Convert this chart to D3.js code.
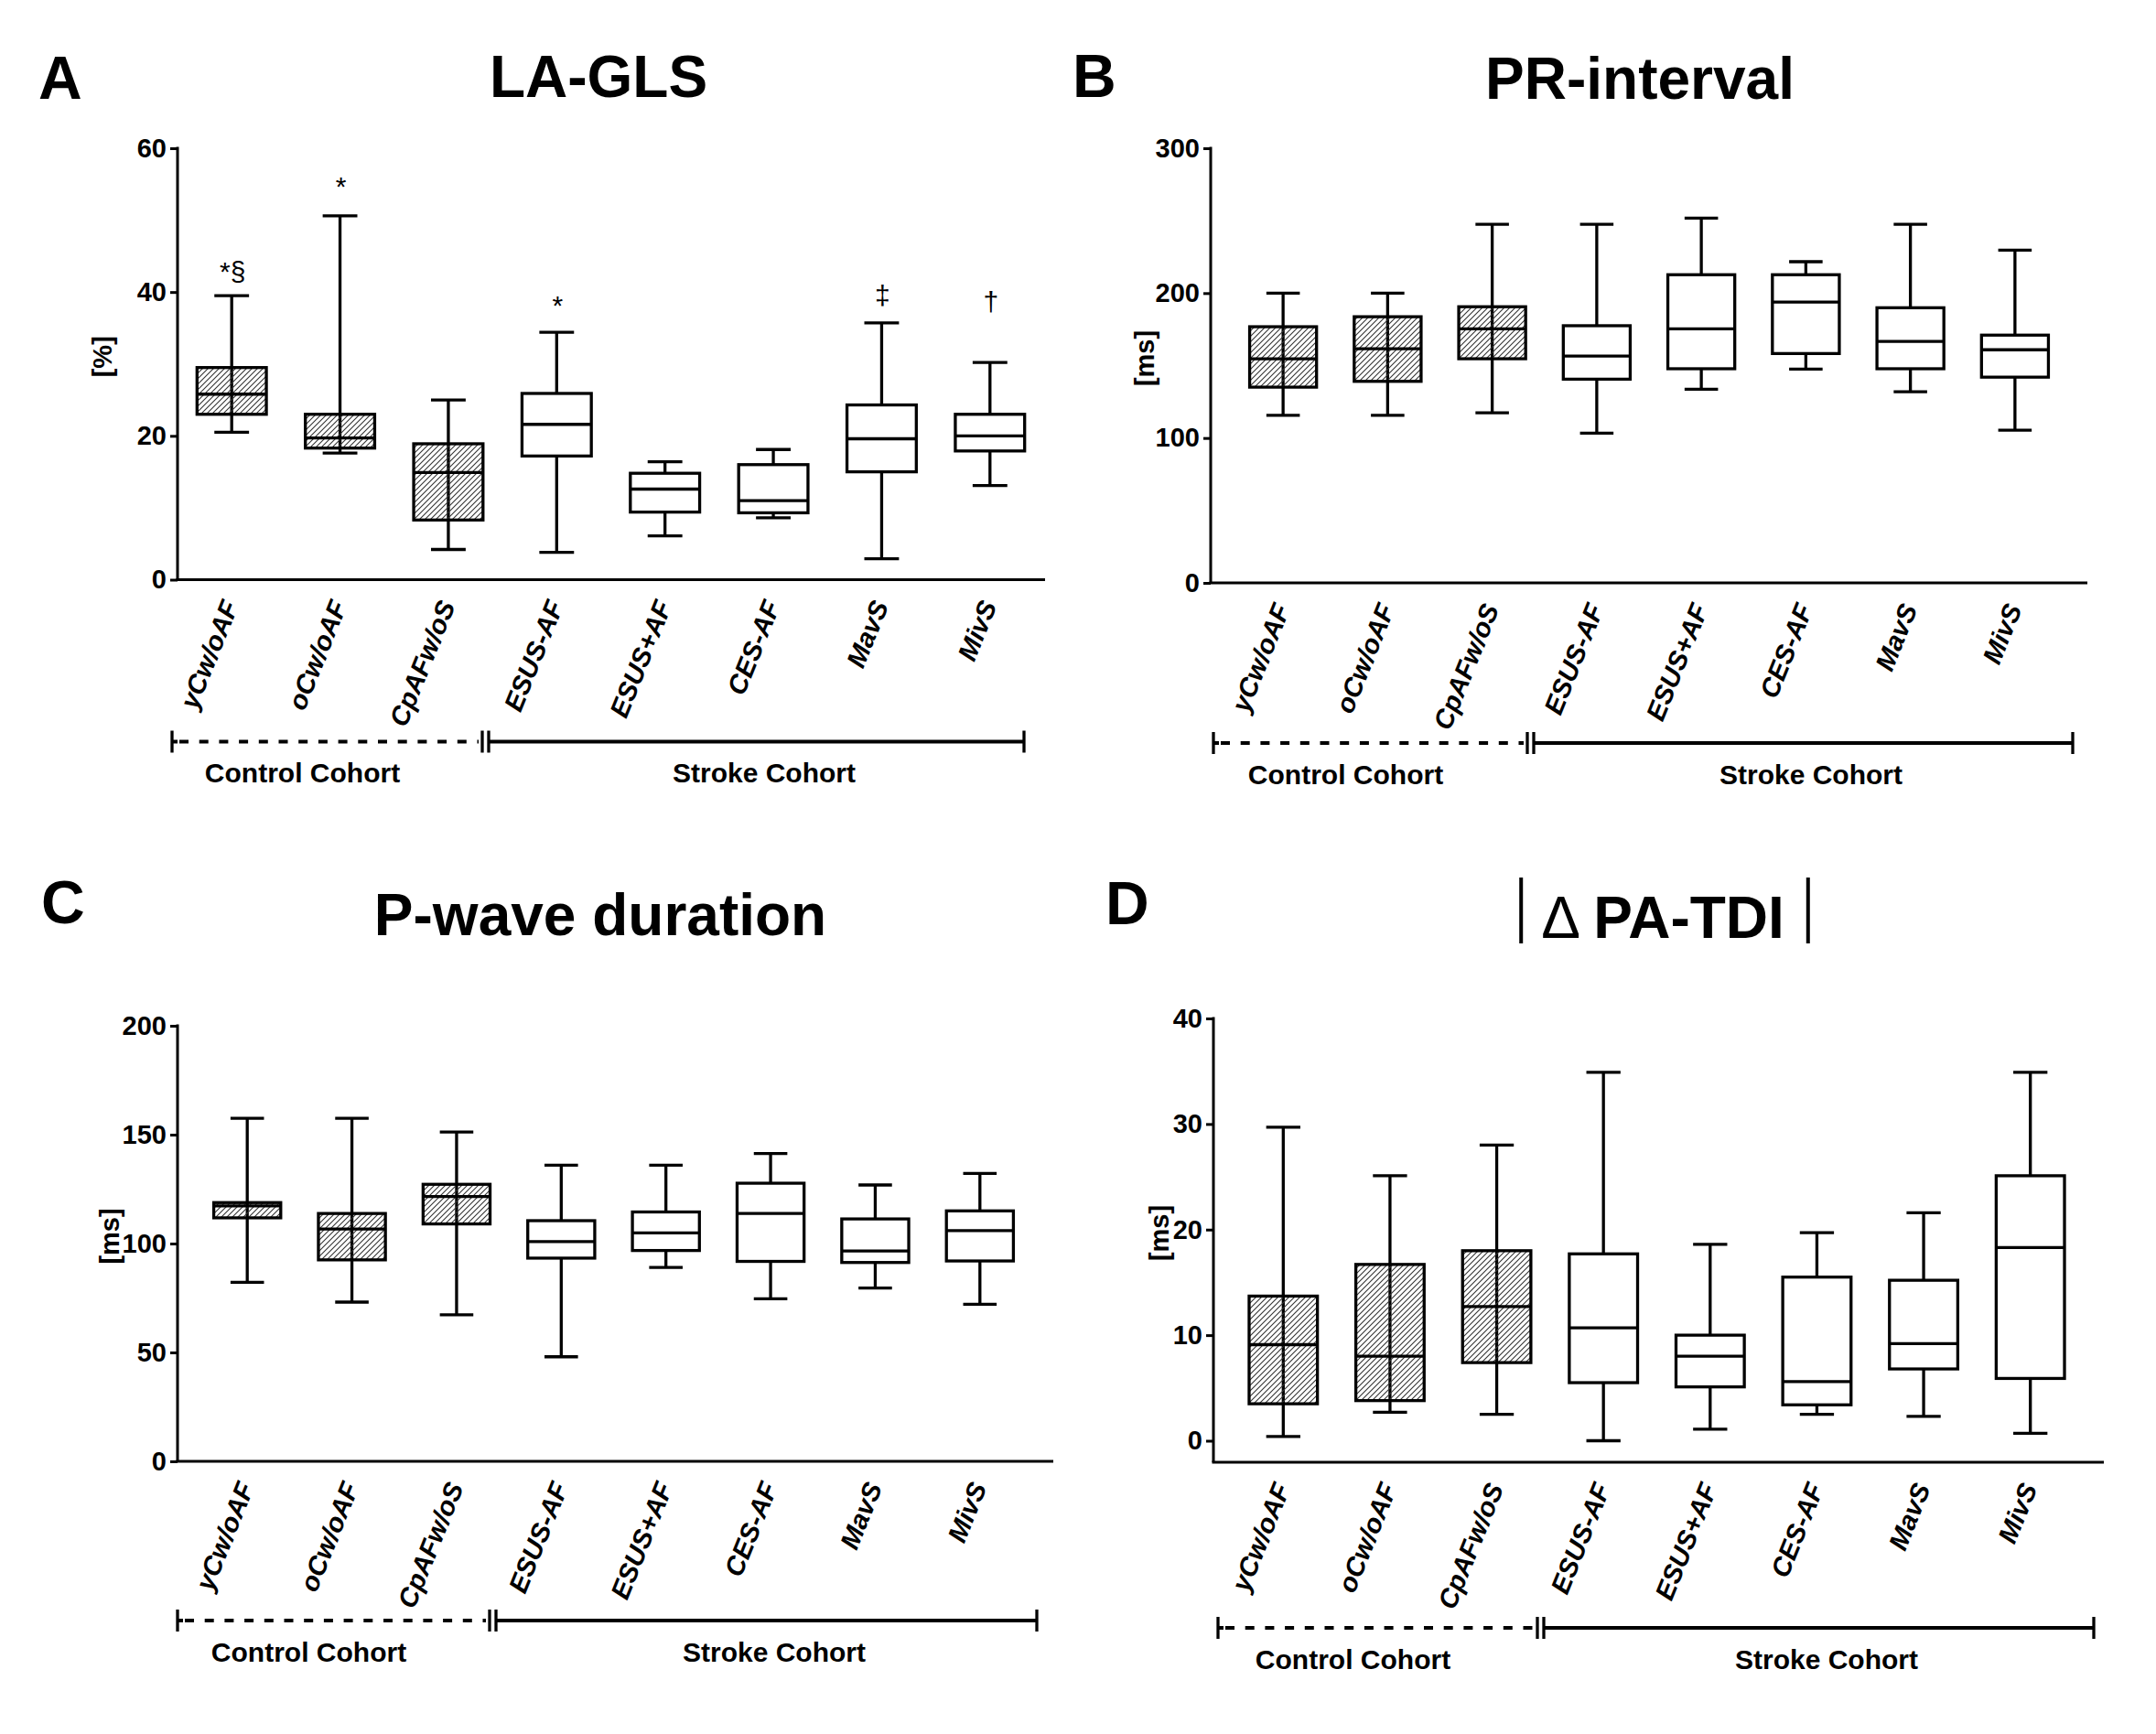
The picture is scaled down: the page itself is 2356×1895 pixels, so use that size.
<!DOCTYPE html>
<html lang="en">
<head>
<meta charset="utf-8" />
<title>LA-GLS, PR-interval, P-wave duration, PA-TDI</title>
<style>
  body { margin: 0; background: #fff; }
  svg { display: block; font-family: "Liberation Sans", Arial, sans-serif; }
  .letter { font-size: 66px; font-weight: bold; }
  .title { font-size: 64px; font-weight: bold; }
  .ylab { font-size: 29px; font-weight: bold; }
  .cat { font-size: 29px; font-weight: bold; font-style: italic; }
  .cohort { font-size: 30px; font-weight: bold; }
  .sig { font-size: 30px; }
</style>
</head>
<body>
<script src="https://d3js.org/d3.v7.min.js"></script>
<script>
// groups on the x axis
var categories = ["yCw/oAF", "oCw/oAF", "CpAFw/oS", "ESUS-AF", "ESUS+AF", "CES-AF", "MavS", "MivS"];
var cohort = ["Control", "Control", "Control", "Stroke", "Stroke", "Stroke", "Stroke", "Stroke"];

// A: LA-GLS [%]
var glsMin = [20.5, 17.6, 4.2, 3.8, 6.1, 8.6, 2.9, 13.1];
var glsQ1  = [23.0, 18.3, 8.3, 17.2, 9.4, 9.3, 15.0, 17.9];
var glsMed = [25.8, 19.7, 14.9, 21.6, 12.6, 11.0, 19.6, 20.0];
var glsQ3  = [29.5, 23.0, 18.9, 25.9, 14.8, 16.0, 24.3, 23.0];
var glsMax = [39.5, 50.6, 25.0, 34.4, 16.4, 18.1, 35.7, 30.2];
var glsSig   = ["*§", "*", "", "*", "", "", "‡", "†"];
var glsSigAt = [41.5, 53.4, 0, 36.9, 0, 0, 38.3, 37.4];
var glsTicks = [0, 20, 40, 60];

// B: PR-interval [ms]
var prMin = [115.6, 115.6, 117.4, 103.3, 133.7, 147.5, 131.9, 105.4];
var prQ1  = [135.1, 139.1, 154.7, 140.6, 147.8, 158.3, 147.8, 142.0];
var prMed = [154.7, 161.6, 175.4, 156.5, 175.4, 193.8, 166.7, 160.9];
var prQ3  = [176.8, 183.7, 190.6, 177.5, 212.7, 212.7, 189.9, 171.0];
var prMax = [200, 200, 247.5, 247.5, 251.8, 221.7, 247.5, 229.7];
var prTicks = [0, 100, 200, 300];

// C: P-wave duration [ms]
var pwMin = [82.2, 73.1, 67.3, 48.0, 89.0, 74.6, 79.6, 72.1];
var pwQ1  = [111.8, 92.5, 109.0, 93.3, 96.8, 91.8, 91.3, 92.0];
var pwMed = [117.3, 106.7, 121.6, 100.9, 104.9, 113.8, 96.6, 105.9];
var pwQ3  = [118.8, 113.8, 127.2, 110.5, 114.5, 127.7, 111.3, 115.0];
var pwMax = [157.5, 157.5, 151.2, 136.0, 136.0, 141.3, 126.9, 132.2];
var pwTicks = [0, 50, 100, 150, 200];

// D: |delta PA-TDI| [ms]
var tdiMin = [0.4, 2.7, 2.5, 0, 1.1, 2.5, 2.3, 0.7];
var tdiQ1  = [3.5, 3.8, 7.4, 5.5, 5.1, 3.4, 6.8, 5.9];
var tdiMed = [9.1, 8.0, 12.7, 10.7, 8.0, 5.6, 9.2, 18.3];
var tdiQ3  = [13.7, 16.7, 18.0, 17.7, 10.0, 15.5, 15.2, 25.1];
var tdiMax = [29.7, 25.1, 28.0, 34.9, 18.6, 19.7, 21.6, 34.9];
var tdiTicks = [0, 10, 20, 30, 40];

var svg = d3.select("body").append("svg")
  .attr("width", 2356).attr("height", 1895);

// hatch for the control cohort boxes
svg.append("defs").append("pattern")
  .attr("id", "hatch")
  .attr("patternUnits", "userSpaceOnUse")
  .attr("width", 6).attr("height", 6)
  .append("path")
  .attr("d", "M-1,1 l2,-2 M0,6 l6,-6 M5,7 l2,-2")
  .attr("stroke", "#333").attr("stroke-width", 1.1);

function drawPanel(p, mins, q1s, meds, q3s, maxs) {
  var g = svg.append("g");
  var x = d3.scaleBand().domain(categories).range(p.band);
  var y = d3.scaleLinear().domain([0, d3.max(p.ticks)]).range([p.yZero, p.yTop]);
  var bw = x.bandwidth() * 0.64;
  var cx = function(i) { return x(categories[i]) + x.bandwidth() / 2; };

  g.append("text").attr("class", "letter")
    .attr("x", p.letterX).attr("y", p.letterY).text(p.letter);

  var title = g.append("text").attr("class", "title")
    .attr("x", p.titleX).attr("y", p.titleY)
    .attr("text-anchor", "middle");
  if (p.delta) {
    title.append("tspan").attr("font-weight", "normal").text("\u0394 ");
    title.append("tspan").text(p.title);
    var bb = title.node().getBBox();
    [bb.x - 22, bb.x + bb.width + 26].forEach(function(bx) {
      g.append("line").attr("x1", bx).attr("x2", bx)
        .attr("y1", p.titleY - 66).attr("y2", p.titleY + 6)
        .attr("stroke", "#000").attr("stroke-width", 4);
    });
  } else {
    title.text(p.title);
  }

  // y axis
  var ya = g.append("g").attr("transform", "translate(" + p.x0 + ",0)")
    .call(d3.axisLeft(y).tickValues(p.ticks).tickSize(8).tickPadding(4).tickSizeOuter(0));
  ya.select(".domain").remove();
  ya.attr("font-family", null).attr("font-size", null);
  ya.selectAll(".tick line").attr("stroke-width", 3);
  ya.selectAll(".tick text").attr("font-size", 29).attr("font-weight", "bold");
  g.append("line").attr("x1", p.x0).attr("x2", p.x0)
    .attr("y1", p.yTop - 1.5).attr("y2", p.axisY)
    .attr("stroke", "#000").attr("stroke-width", 3);
  g.append("line").attr("x1", p.x0 - 1.5).attr("x2", p.x1)
    .attr("y1", p.axisY).attr("y2", p.axisY)
    .attr("stroke", "#000").attr("stroke-width", 3);

  g.append("text").attr("class", "ylab")
    .attr("transform", "translate(" + p.yLabelX + "," + ((p.yTop + p.axisY) / 2 - 8) + ") rotate(-90)")
    .attr("text-anchor", "middle").attr("dy", "0.35em")
    .text(p.yLabel);

  // category labels
  g.selectAll(".cat").data(categories).join("text")
    .attr("class", "cat")
    .attr("text-anchor", "end")
    .attr("transform", function(d, i) {
      return "translate(" + (cx(i) + 8) + "," + (p.axisY + 28) + ") rotate(-68)";
    })
    .text(function(d) { return d; });

  // boxes and whiskers
  var boxes = g.selectAll(".box").data(categories).join("g").attr("class", "box");
  boxes.append("line")
    .attr("x1", function(d, i) { return cx(i); }).attr("x2", function(d, i) { return cx(i); })
    .attr("y1", function(d, i) { return y(maxs[i]); }).attr("y2", function(d, i) { return y(mins[i]); })
    .attr("stroke", "#000").attr("stroke-width", 3.3);
  [maxs, mins].forEach(function(arr) {
    boxes.append("line")
      .attr("x1", function(d, i) { return cx(i) - bw / 4; })
      .attr("x2", function(d, i) { return cx(i) + bw / 4; })
      .attr("y1", function(d, i) { return y(arr[i]); })
      .attr("y2", function(d, i) { return y(arr[i]); })
      .attr("stroke", "#000").attr("stroke-width", 3.3);
  });
  boxes.append("rect")
    .attr("x", function(d, i) { return cx(i) - bw / 2; })
    .attr("width", bw)
    .attr("y", function(d, i) { return y(q3s[i]); })
    .attr("height", function(d, i) { return y(q1s[i]) - y(q3s[i]); })
    .attr("fill", function(d, i) { return cohort[i] === "Control" ? "url(#hatch)" : "#fff"; })
    .attr("stroke", "#000").attr("stroke-width", 3.3);
  boxes.append("line")
    .attr("x1", function(d, i) { return cx(i) - bw / 2; })
    .attr("x2", function(d, i) { return cx(i) + bw / 2; })
    .attr("y1", function(d, i) { return y(meds[i]); })
    .attr("y2", function(d, i) { return y(meds[i]); })
    .attr("stroke", "#000").attr("stroke-width", 3.3);

  if (p.sig) {
    g.selectAll(".sig").data(p.sig).join("text")
      .attr("class", "sig")
      .attr("text-anchor", "middle")
      .attr("x", function(d, i) { return cx(i) + 1; })
      .attr("y", function(d, i) { return y(p.sigAt[i]); })
      .text(function(d) { return d; });
  }

  // cohort brackets
  var by = p.bracketY;
  g.append("line").attr("x1", p.bL + 8).attr("x2", p.bD - 4).attr("y1", by).attr("y2", by)
    .attr("stroke", "#000").attr("stroke-width", 4).attr("stroke-dasharray", "10,11.7");
  g.append("line").attr("x1", p.bL).attr("x2", p.bL + 6).attr("y1", by).attr("y2", by)
    .attr("stroke", "#000").attr("stroke-width", 4);
  g.append("line").attr("x1", p.bD + 6).attr("x2", p.bR).attr("y1", by).attr("y2", by)
    .attr("stroke", "#000").attr("stroke-width", 4);
  [p.bL, p.bD, p.bD + 7, p.bR].forEach(function(tx) {
    g.append("line").attr("x1", tx).attr("x2", tx)
      .attr("y1", by - 12).attr("y2", by + 12)
      .attr("stroke", "#000").attr("stroke-width", 3.3);
  });
  g.append("text").attr("class", "cohort").attr("text-anchor", "middle")
    .attr("x", (p.bL + p.bD) / 2 - 27).attr("y", p.textY).text("Control Cohort");
  g.append("text").attr("class", "cohort").attr("text-anchor", "middle")
    .attr("x", (p.bD + p.bR) / 2 + 12).attr("y", p.textY).text("Stroke Cohort");
}

drawPanel({
  letter: "A", letterX: 42, letterY: 108, title: "LA-GLS", titleX: 654, titleY: 106,
  x0: 194, x1: 1142, band: [194, 1141], yTop: 162, yZero: 633.5, axisY: 633.5,
  ticks: glsTicks, yLabel: "[%]", yLabelX: 112,
  sig: glsSig, sigAt: glsSigAt,
  bracketY: 810.5, bL: 188, bD: 527, bR: 1119, textY: 855
}, glsMin, glsQ1, glsMed, glsQ3, glsMax);

drawPanel({
  letter: "B", letterX: 1172, letterY: 106, title: "PR-interval", titleX: 1792, titleY: 108,
  x0: 1323, x1: 2281, band: [1345, 2259], yTop: 162, yZero: 637, axisY: 637,
  ticks: prTicks, yLabel: "[ms]", yLabelX: 1251,
  bracketY: 812, bL: 1326, bD: 1669, bR: 2265, textY: 856.5
}, prMin, prQ1, prMed, prQ3, prMax);

drawPanel({
  letter: "C", letterX: 45, letterY: 1009, title: "P-wave duration", titleX: 656, titleY: 1022,
  x0: 194, x1: 1151, band: [213, 1128], yTop: 1121, yZero: 1597, axisY: 1597,
  ticks: pwTicks, yLabel: "[ms]", yLabelX: 120,
  bracketY: 1771, bL: 194, bD: 535, bR: 1133, textY: 1816
}, pwMin, pwQ1, pwMed, pwQ3, pwMax);

drawPanel({
  letter: "D", letterX: 1208, letterY: 1010, title: "PA-TDI", delta: true, titleX: 1817, titleY: 1025,
  x0: 1326, x1: 2299, band: [1344, 2277], yTop: 1113, yZero: 1574.5, axisY: 1598,
  ticks: tdiTicks, yLabel: "[ms]", yLabelX: 1267,
  bracketY: 1779, bL: 1331, bD: 1680, bR: 2288, textY: 1824
}, tdiMin, tdiQ1, tdiMed, tdiQ3, tdiMax);
</script>
</body>
</html>
